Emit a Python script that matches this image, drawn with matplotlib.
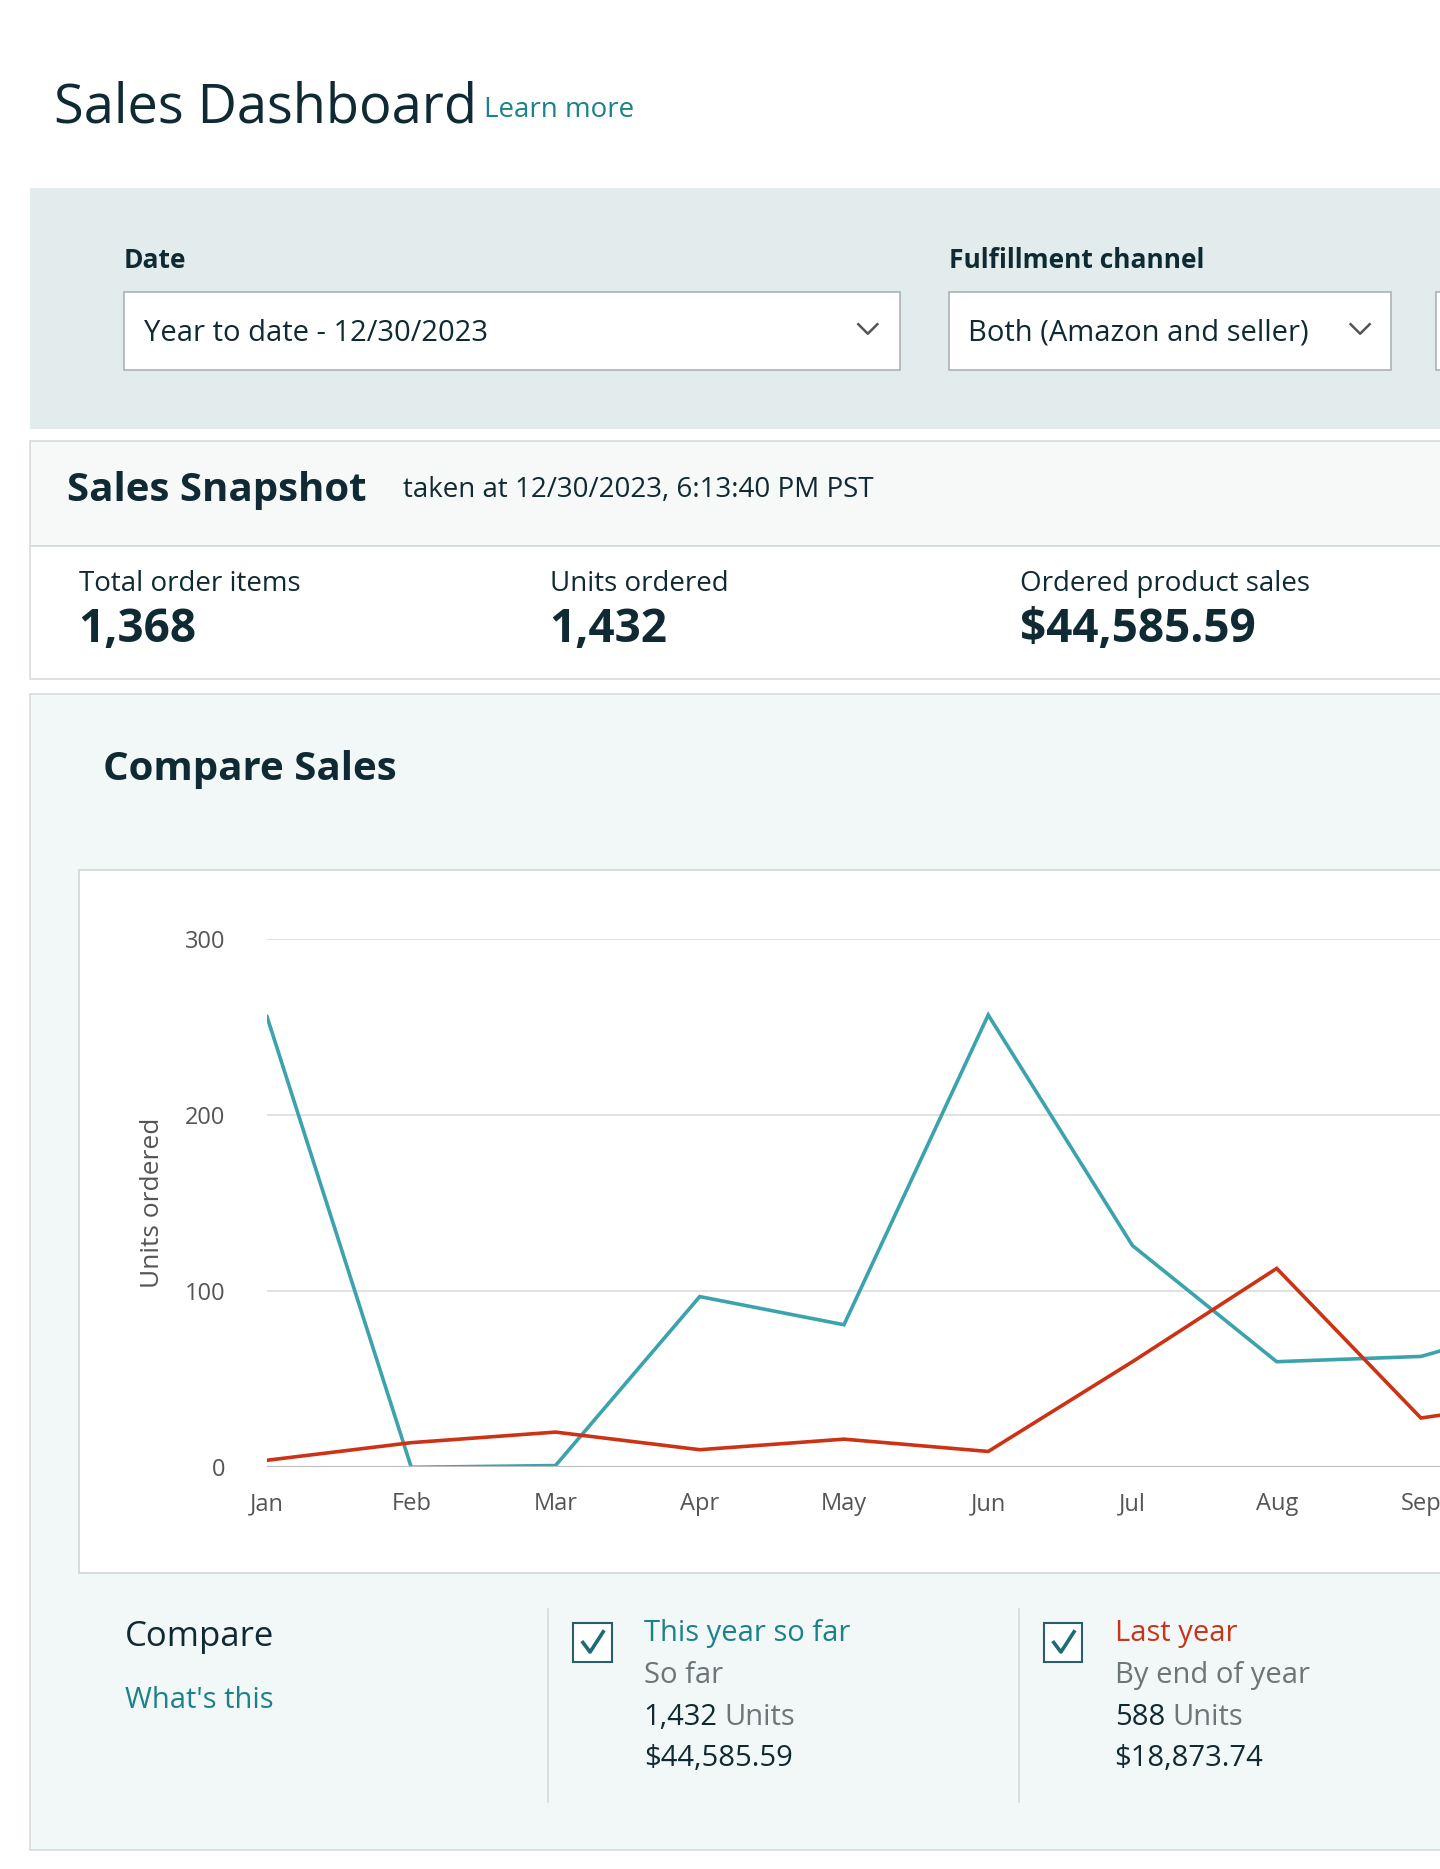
import matplotlib
matplotlib.use("Agg")
import matplotlib.pyplot as plt
from matplotlib.patches import Rectangle

months = ["Jan", "Feb", "Mar", "Apr", "May", "Jun", "Jul", "Aug", "Sep", "Oct"]
this_year = [256, 0, 1, 97, 81, 257, 126, 60, 63, 86]
last_year = [4, 14, 20, 10, 16, 9, 60, 113, 28, 40]
y_ticks = [0, 100, 200, 300]

W, H = 1208, 1568
plt.rcParams['font.family'] = ['Open Sans', 'DejaVu Sans']
fig = plt.figure(figsize=(14.4, 18.69), dpi=100)
bg = fig.add_axes([0, 0, 1, 1])
bg.set_xlim(0, W); bg.set_ylim(H, 0); bg.axis('off')

DARK = '#0f2a33'
TEAL = '#1c8289'
LINE_T = '#3aa3ad'
LINE_R = '#cc3314'

def box(x0, y0, x1, y1, fc, ec='none', lw=1.2):
    bg.add_patch(Rectangle((x0, y0), x1 - x0, y1 - y0, facecolor=fc, edgecolor=ec, lw=lw))

def txt(x, y, s, size, color=DARK, weight='normal', **kw):
    bg.text(x, y, s, fontsize=size, color=color, fontweight=weight, va='baseline', ha='left', **kw)

# Title
txt(45, 103, "Sales Dashboard", 39, weight='medium')
txt(406, 98, "Learn more", 20, color=TEAL)

# Filter panel
box(25, 158, W + 5, 360, '#e3ecec')
txt(104, 225, "Date", 19, weight='bold')
txt(796, 225, "Fulfillment channel", 19, weight='bold')
box(104, 245, 755, 310, 'white', '#a9b3b5')
box(796, 245, 1167, 310, 'white', '#a9b3b5')
box(1205, 245, 1230, 310, 'white', '#a9b3b5')
txt(121, 286, "Year to date - 12/30/2023", 21)
txt(812, 286, "Both (Amazon and seller)", 21)
for cx in (728, 1141):
    bg.plot([cx - 8, cx, cx + 8], [272, 280, 272], color='#555', lw=1.8)

# Snapshot
box(25, 370, W + 5, 458, '#f7f9f9', '#d5dbdb')
box(25, 458, W + 5, 570, 'white', '#d5dbdb')
txt(56, 420, "Sales Snapshot", 29, weight='bold')
txt(338, 417, "taken at 12/30/2023, 6:13:40 PM PST", 20)
for x, lab, val in [(66, "Total order items", "1,368"), (461, "Units ordered", "1,432"),
                    (856, "Ordered product sales", "$44,585.59")]:
    txt(x, 496, lab, 20)
    txt(x, 539, val, 33, weight='bold')

# Compare section
box(25, 582, W + 5, 1552, '#f2f7f7', '#d5dbdb')
txt(86, 654, "Compare Sales", 29, weight='bold')
box(66, 730, W + 5, 1320, 'white', '#d0d5d5')

# Chart axes
x0p, x1p, yb, yt = 224, W, 1231, 788
ax = fig.add_axes([x0p / W, 1 - yb / H, (x1p - x0p) / W, (yb - yt) / H])
ax.set_facecolor('none')
xs = list(range(len(months)))
ax.plot(xs, this_year, color=LINE_T, lw=2.6, solid_joinstyle='miter')
ax.plot(xs, last_year, color=LINE_R, lw=2.6, solid_joinstyle='miter')
ax.set_yticks(y_ticks)
ax.set_yticklabels([str(v) for v in y_ticks], fontsize=17, color='#555')
ax.set_xticks(xs[:9])
ax.set_xticklabels(months[:9], fontsize=17, color='#555')
ax.set_xlim(0, (x1p - x0p) / 121.0)
ax.set_ylim(0, 300)
ax.tick_params(length=0, pad=18)
ax.tick_params(axis='y', pad=30)
ax.grid(axis='y', color='#dcdcdc', lw=1.2)
for s in ax.spines.values():
    s.set_visible(False)
ax.axhline(0, color='#bbbbbb', lw=1.5)
ax.set_ylabel("Units ordered", fontsize=19, color='#555', labelpad=14)

# Legend section
txt(105, 1381, "Compare", 25)
txt(105, 1433, "What's this", 21, color=TEAL)
for x in (460, 855):
    bg.plot([x, x], [1350, 1512], color='#d5dbdb', lw=1.2)
for bx, col, lines in [(481, TEAL, ["This year so far", "So far", "1,432", "Units", "$44,585.59"]),
                       (876, '#c7361a', ["Last year", "By end of year", "588", "Units", "$18,873.74"])]:
    box(bx, 1362, bx + 32, 1394, 'white', '#2a5f6a', lw=1.5)
    bg.plot([bx + 8, bx + 14, bx + 25], [1378, 1386, 1369], color='#1c6c75', lw=2.6)
    tx = bx + 59
    txt(tx, 1377, lines[0], 21, color=col)
    txt(tx, 1412, lines[1], 21, color='#6b7676')
    num = lines[2]
    t = bg.text(tx, 1447, num, fontsize=21, color=DARK, va='baseline')
    fig.canvas.draw()
    bb = t.get_window_extent().transformed(bg.transData.inverted())
    bg.text(bb.x1 + 6, 1447, lines[3], fontsize=21, color='#6b7676', va='baseline')
    txt(tx, 1482, lines[4], 21)

fig.savefig("out.png", dpi=100)
